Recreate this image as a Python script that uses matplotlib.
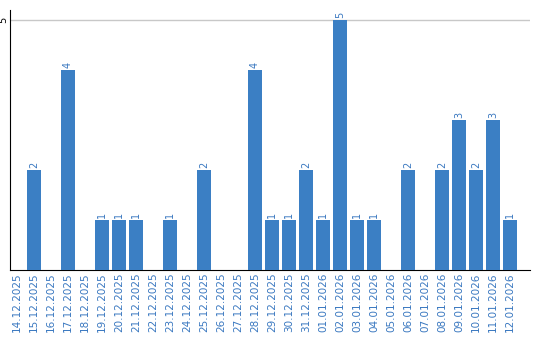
import numpy as np
import matplotlib
matplotlib.use('Agg')
from matplotlib import pyplot as plt

dates = ['14.12.2025', '15.12.2025', '16.12.2025', '17.12.2025', '18.12.2025',
         '19.12.2025', '20.12.2025', '21.12.2025', '22.12.2025', '23.12.2025',
         '24.12.2025', '25.12.2025', '26.12.2025', '27.12.2025', '28.12.2025',
         '29.12.2025', '30.12.2025', '31.12.2025', '01.01.2026', '02.01.2026',
         '03.01.2026', '04.01.2026', '05.01.2026', '06.01.2026', '07.01.2026',
         '08.01.2026', '09.01.2026', '10.01.2026', '11.01.2026', '12.01.2026']
counts = [0, 2, 0, 4, 0, 1, 1, 1, 0, 1, 0, 2, 0, 0, 4,
          1, 1, 2, 1, 5, 1, 1, 0, 2, 0, 2, 3, 2, 3, 1]

bar_color = '#3b7fc4'
text_color = '#3a78c0'

fig = plt.figure(figsize=(5.4, 3.4), dpi=100)
ax = fig.add_axes([10 / 540, 70 / 340, 520 / 540, 260 / 340])

x = np.arange(len(dates))
bars = ax.bar(x, counts, width=0.82, color=bar_color, zorder=3)

for xi, v in zip(x, counts):
    if v > 0:
        ax.text(xi, v + 0.04, str(v), rotation=90, ha='center', va='bottom',
                fontsize=7, color=text_color)

ax.set_xlim(-0.41, 30.18)
ax.set_ylim(0, 5.2)
ax.set_yticks([5])
ax.set_yticklabels(['5'], rotation=90, va='center', fontsize=7)
ax.set_xticks(x)
ax.set_xticklabels(dates, rotation=90, fontsize=7.5, color=text_color)
ax.tick_params(axis='both', length=0, pad=2)
ax.tick_params(axis='y', pad=1)
ax.yaxis.grid(True, color='#c8c8c8', linewidth=1, zorder=0)

for side in ['top', 'right']:
    ax.spines[side].set_visible(False)
ax.spines['left'].set_color('black')
ax.spines['bottom'].set_color('black')

plt.savefig('out.png', dpi=100)
